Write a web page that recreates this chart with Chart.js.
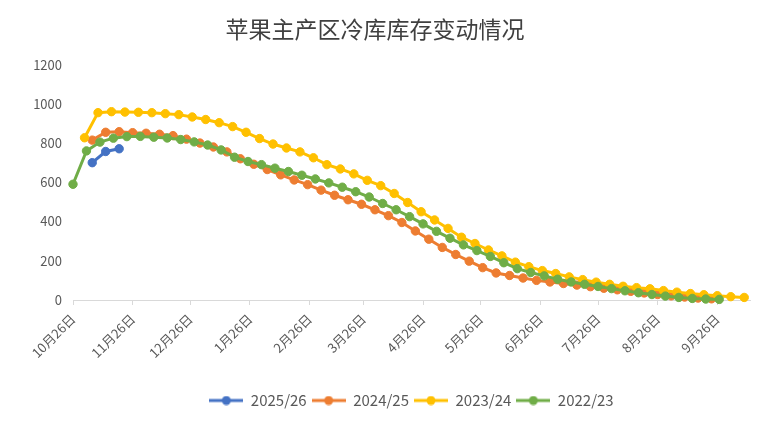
<!DOCTYPE html>
<html>
<head>
<meta charset="utf-8">
<title>苹果主产区冷库库存变动情况</title>
<script src="https://cdn.jsdelivr.net/npm/chart.js@4.4.1/dist/chart.umd.min.js"></script>
<style>
    html, body { margin: 0; padding: 0; background: #ffffff; }
    #wrap { width: 760px; height: 421px; }
</style>
</head>
<body>
<div id="wrap"><canvas id="stockChart"></canvas></div>
<script>
// X axis: days counted from 10/26, one tick per month
const tickDays = [0, 31, 61, 92, 123, 151, 182, 212, 243, 273, 304, 335];
const tickLabels = ['10月26日', '11月26日', '12月26日', '1月26日', '2月26日', '3月26日',
    '4月26日', '5月26日', '6月26日', '7月26日', '8月26日', '9月26日'];

const seasons = ['2025/26', '2024/25', '2023/24', '2022/23'];
const seasonColors = ['#4472C4', '#ED7D31', '#FFC000', '#70AD47'];

// first reading of each season (days after 10/26), then one reading per week
const startDays = [10, 10, 6, 0];

// weekly stock, 万吨
const stock2526 = [700, 757, 771];
const stock2425 = [815, 855, 858, 853, 850, 845, 838, 820, 800, 780, 755, 720, 692, 665, 638,
    612, 588, 560, 534, 511, 488, 460, 430, 395, 352, 310, 268, 232, 198, 165, 138, 125, 112,
    100, 92, 84, 76, 68, 60, 52, 44, 36, 28, 21, 15, 10, 6];
const stock2324 = [827, 955, 960, 958, 957, 955, 950, 945, 933, 920, 904, 884, 855, 823, 795,
    775, 755, 725, 690, 668, 643, 610, 583, 543, 497, 450, 408, 365, 320, 288, 255, 225, 193,
    170, 150, 135, 118, 104, 91, 80, 70, 63, 57, 48, 40, 33, 27, 22, 17, 13];
const stock2223 = [590, 760, 805, 825, 833, 834, 830, 826, 818, 806, 790, 765, 728, 706, 690,
    672, 655, 636, 617, 597, 575, 552, 525, 492, 460, 425, 388, 350, 315, 281, 252, 222, 190,
    160, 140, 123, 106, 92, 80, 69, 58, 47, 37, 28, 20, 13, 8, 5, 3];

const seriesValues = [stock2526, stock2425, stock2324, stock2223];

const fontFamily = "'Noto Sans CJK SC', 'Noto Sans', sans-serif";

function toPoints(values, startDay) {
    return values.map((v, i) => ({ x: startDay + i * 7, y: v }));
}

// legend symbol: short line with a dot in the middle
function legendSymbol(color) {
    const c = document.createElement('canvas');
    c.width = 34;
    c.height = 10;
    const g = c.getContext('2d');
    g.strokeStyle = color;
    g.lineWidth = 3;
    g.beginPath();
    g.moveTo(0, 5);
    g.lineTo(34, 5);
    g.stroke();
    g.fillStyle = color;
    g.beginPath();
    g.arc(17, 5, 4.5, 0, Math.PI * 2);
    g.fill();
    return c;
}

const datasets = seasons.map((name, i) => ({
    label: name,
    data: toPoints(seriesValues[i], startDays[i]),
    borderColor: seasonColors[i],
    backgroundColor: seasonColors[i],
    pointBackgroundColor: seasonColors[i],
    pointBorderColor: seasonColors[i],
    borderWidth: 3,
    pointRadius: 4.2,
    pointBorderWidth: 1,
    tension: 0,
    clip: false,
    order: seasons.length - i   // later seasons drawn on top, like Excel
}));

Chart.defaults.font.family = fontFamily;
Chart.defaults.color = '#595959';

new Chart(document.getElementById('stockChart'), {
    type: 'line',
    data: { datasets: datasets },
    options: {
        responsive: true,
        maintainAspectRatio: false,
        animation: false,
        layout: { padding: { left: 0, right: 10, top: 0, bottom: 3 } },
        plugins: {
            title: {
                display: true,
                text: '苹果主产区冷库库存变动情况',
                color: '#404040',
                font: { size: 23, weight: 'normal', family: fontFamily },
                padding: { top: 15, bottom: 22 }
            },
            legend: {
                position: 'bottom',
                fullSize: false,
                labels: {
                    usePointStyle: true,
                    pointStyleWidth: 34,
                    padding: 5,
                    color: '#595959',
                    font: { size: 15 },
                    sort: (a, b) => a.datasetIndex - b.datasetIndex,
                    generateLabels: function(chart) {
                        const items = Chart.defaults.plugins.legend.labels.generateLabels(chart);
                        items.forEach(item => {
                            item.pointStyle = legendSymbol(seasonColors[item.datasetIndex]);
                        });
                        return items;
                    }
                }
            },
            tooltip: { enabled: false }
        },
        scales: {
            x: {
                type: 'linear',
                min: 0,
                max: 352,
                afterBuildTicks: function(axis) {
                    axis.ticks = tickDays.map(v => ({ value: v }));
                },
                afterFit: function(axis) {
                    axis.height = 88;
                },
                grid: {
                    display: true,
                    drawOnChartArea: false,
                    drawTicks: true,
                    tickLength: 5,
                    color: '#d9d9d9'
                },
                border: { display: true, color: '#d9d9d9' },
                ticks: {
                    autoSkip: false,
                    minRotation: 45,
                    maxRotation: 45,
                    padding: 6,
                    color: '#595959',
                    font: { size: 13 },
                    callback: function(value, index) {
                        return tickLabels[index];
                    }
                }
            },
            y: {
                min: 0,
                max: 1200,
                afterFit: function(axis) {
                    axis.width = 73;
                },
                grid: { display: false, drawTicks: false },
                border: { display: false },
                ticks: {
                    stepSize: 200,
                    padding: 11,
                    color: '#595959',
                    font: { size: 13 },
                    callback: function(value) {
                        return String(value);
                    }
                }
            }
        }
    }
});
</script>
</body>
</html>
